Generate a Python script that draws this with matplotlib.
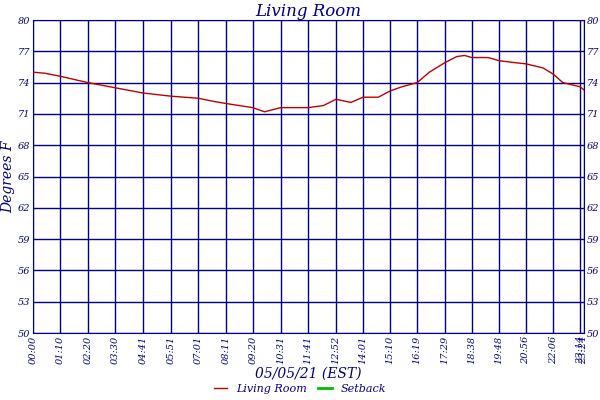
import matplotlib
matplotlib.use("Agg")
import matplotlib.pyplot as plt

tick_labels = ["00:00","01:10","02:20","03:30","04:41","05:51","07:01","08:11","09:20","10:31",
               "11:41","12:52","14:01","15:10","16:19","17:29","18:38","19:48","20:56","22:06","23:14","23:24"]
times = ["00:00","00:30","01:10","02:20","03:30","04:41","05:51","07:01","07:40","08:11","09:20","09:50",
         "10:31","11:41","12:20","12:52","13:30","14:01","14:40","15:10","15:40","16:19","16:50","17:29",
         "18:00","18:20","18:38","19:20","19:48","20:30","20:56","21:40","22:06","22:30","23:14","23:24"]
temps = [75.0,74.9,74.6,74.0,73.5,73.0,72.7,72.5,72.2,72.0,71.6,71.2,71.6,71.6,71.8,72.4,72.1,72.6,72.6,
         73.2,73.6,74.0,75.0,75.9,76.5,76.6,76.4,76.4,76.1,75.9,75.8,75.4,74.8,74.0,73.6,73.3]
yticks = [50,53,56,59,62,65,68,71,74,77,80]

def mins(s):
    h, m = s.split(":")
    return int(h)*60+int(m)

navy = "#000080"
fig = plt.figure(figsize=(6,4), dpi=100)
ax = fig.add_axes([33/600, 1-333/400, 551/600, 313/400])
x = [mins(t) for t in times]
ax.plot(x, temps, color="#c00000", lw=1, label="Living Room", zorder=3)
ax.plot([], [], color="#00bb00", lw=2, label="Setback")
ax.set_xlim(0, mins("23:24"))
ax.set_ylim(50, 80)
tx = [mins(t) for t in tick_labels]
ax.set_xticks(tx)
ax.set_xticklabels(tick_labels, rotation=90, fontsize=7, color=navy, fontfamily="DejaVu Serif", style="italic")
ax.set_yticks(yticks)
ax.set_yticklabels([str(v) for v in yticks], fontsize=7, color=navy, fontfamily="DejaVu Serif", style="italic")
ax.tick_params(length=0, pad=2, labelright=True)
ax.grid(True, color=navy, lw=1)
for s in ax.spines.values():
    s.set_color(navy)
ax.set_title("Living Room", fontsize=12, color=navy, fontfamily="DejaVu Serif", style="italic", pad=3)
ax.set_xlabel("05/05/21 (EST)", fontsize=10, color=navy, fontfamily="DejaVu Serif", style="italic", labelpad=2)
ax.set_ylabel("Degrees F", fontsize=10, color=navy, fontfamily="DejaVu Serif", style="italic", labelpad=2)
leg = fig.legend(loc="lower center", bbox_to_anchor=(0.5, -0.01), ncol=2, frameon=False,
                 prop={"family":"DejaVu Serif","style":"italic","size":8}, handlelength=1.2, columnspacing=1)
for t in leg.get_texts():
    t.set_color(navy)
fig.savefig("out.png", dpi=100)
